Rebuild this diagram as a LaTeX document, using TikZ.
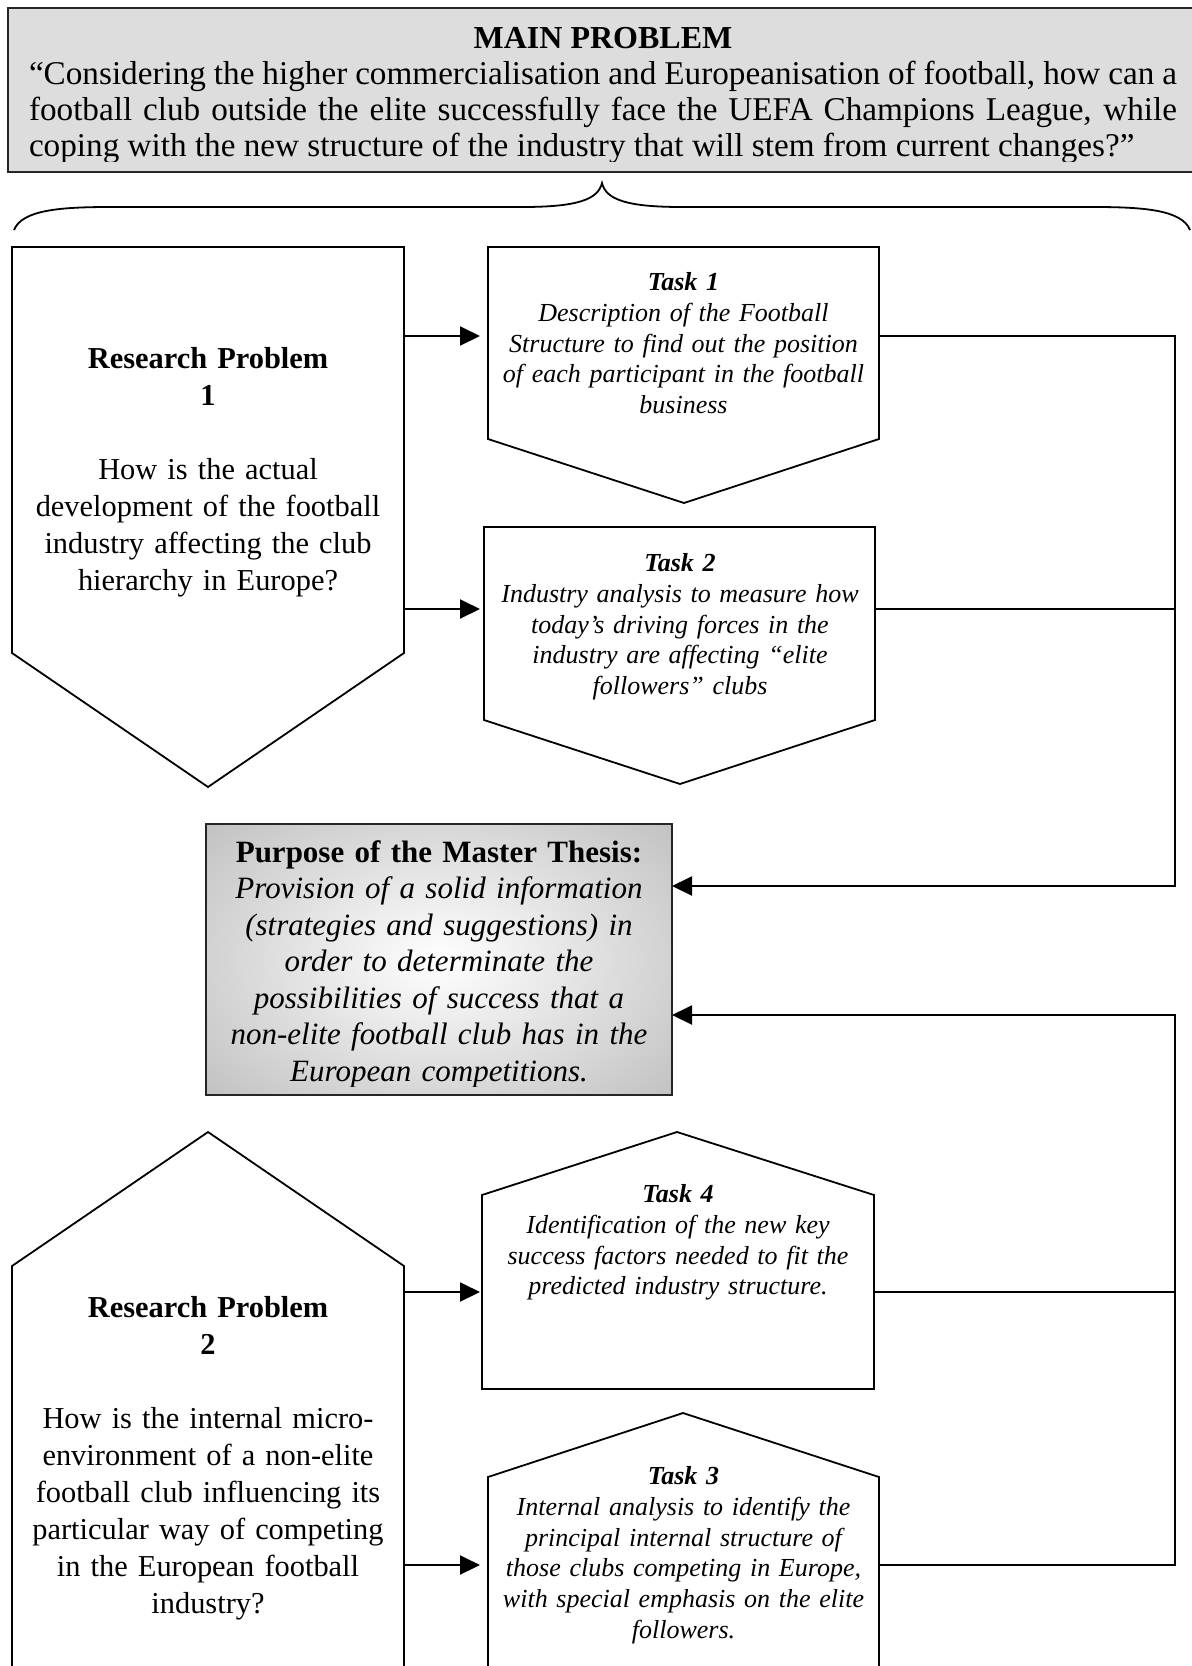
\documentclass[tikz,border=0pt]{standalone}
\usepackage{fontspec}
\setmainfont{Liberation Serif}
\usetikzlibrary{arrows.meta,fit}

\definecolor{mainfill}{RGB}{221,221,221}
\definecolor{edgegray}{RGB}{155,155,155}

\begin{document}
\begin{tikzpicture}[x=0.5pt,y=-0.5pt,
  body/.style={inner sep=0pt,outer sep=0pt},
  outline/.style={draw=black,line width=0.9pt,line join=miter},
  link/.style={draw=black,line width=1pt},
  arr/.style={link,-{Triangle[length=10pt,width=9.5pt]}},
  bigtext/.style={inner sep=0pt,anchor=north,align=center,text width=205pt,
    font=\fontsize{15.2}{18.5}\selectfont},
  tasktext/.style={inner sep=0pt,anchor=north,align=center,text width=190pt,
    font=\fontsize{13}{15.4}\selectfont\itshape},
]
\useasboundingbox (0,0) rectangle (1192,1666);
\clip (0,0) rectangle (1192,1666);

% y-levels of the connectors and x of the collecting line
\coordinate (lv1) at (0,336);
\coordinate (lv2) at (0,609);
\coordinate (lv3) at (0,1292);
\coordinate (lv4) at (0,1565);
\coordinate (lvA) at (0,886);
\coordinate (lvB) at (0,1015);
\coordinate (vx)  at (1175,0);

% ---- main problem box ----
\node[body,fit={(8,8)(1210,172)}] (main) {};
\fill[mainfill] (main.north west) rectangle (main.south east);
\begin{scope}
  \clip (main.north west) rectangle (1210,161);
  \node[inner sep=0pt,anchor=north,text width=574pt,align=justify,
        font=\fontsize{16.6}{18}\selectfont] (maintxt) at (603,27)
  {{\centering\fontsize{16}{18}\selectfont\textbf{MAIN PROBLEM}\par}
   “Considering the higher commercialisation and Europeanisation of football, how can a\linebreak
   football club outside the elite successfully face the UEFA Champions League, while\linebreak
   coping with the new structure of the industry that will stem from current changes?”};
\end{scope}
\draw[line width=1pt,draw=black!85] (main.north west) rectangle (main.south east);

% ---- curly brace ----
\draw[line width=0.9pt] (14,230) .. controls (22,210) and (60,207) .. (110,207)
  -- (522,207) .. controls (576,207) and (598,200) .. (602,183)
  .. controls (606,200) and (628,207) .. (682,207)
  -- (1094,207) .. controls (1144,207) and (1182,210) .. (1190,230);

% ---- research problem 1 ----
\node[body,fit={(12,247)(404,653)}] (rp1) {};
\coordinate (rp1tip) at (208,787);
\draw[outline] (rp1.south west) -- (rp1.north west) -- (rp1.north east)
  -- (rp1.south east) -- (rp1tip) -- cycle;
\node[bigtext] (rp1txt) at (208,347)
  {\textbf{Research Problem}\\\textbf{1}\\[18.5pt]
   How is the actual\\development of the football\\industry affecting the club\\hierarchy in Europe?};

% ---- task 1 ----
\node[body,fit={(488,247)(879,439)}] (t1) {};
\coordinate (t1tip) at (684,503);
\draw[outline] (t1.north west) -- (t1.north east) -- (t1.south east)
  -- (t1tip) -- (t1.south west) -- cycle;
\node[tasktext] (t1txt) at (683.5,272)
  {\textbf{Task 1}\\Description of the Football\\Structure to find out the position\\of each participant in the football\\business};

% ---- task 2 ----
\node[body,fit={(484,527)(875,720)}] (t2) {};
\coordinate (t2tip) at (680,784);
\draw[outline] (t2.north west) -- (t2.north east) -- (t2.south east)
  -- (t2tip) -- (t2.south west) -- cycle;
\node[tasktext] (t2txt) at (680,553)
  {\textbf{Task 2}\\Industry analysis to measure how\\today’s driving forces in the\\industry are affecting “elite\\followers” clubs};

% ---- purpose of the thesis ----
\node[body,fit={(206,824)(672,1095)}] (pur) {};
\begin{scope}
  \clip (pur.north west) rectangle (pur.south east);
  \shade[inner color=white,outer color=edgegray] (pur.center)
    ellipse[x radius=255pt,y radius=165pt];
\end{scope}
\begin{scope}
  \clip (pur.north west) rectangle (672,1086);
  \node[bigtext,text width=228pt,font=\fontsize{15.5}{18.25}\selectfont] (purtxt) at (439,840)
    {\textbf{Purpose of the Master Thesis:}\\\itshape Provision of a solid information\\(strategies and suggestions) in\\order to determinate the\\possibilities of success that a\\non-elite football club has in the\\European competitions.};
\end{scope}
\draw[line width=1pt,draw=black!85] (pur.north west) rectangle (pur.south east);

% ---- research problem 2 ----
\node[body,fit={(12,1266)(404,1700)}] (rp2) {};
\coordinate (rp2tip) at (208,1132);
\draw[outline] (rp2.south west) -- (rp2.north west) -- (rp2tip)
  -- (rp2.north east) -- (rp2.south east);
\node[bigtext] (rp2txt) at (208,1296)
  {\textbf{Research Problem}\\\textbf{2}\\[18.5pt]
   How is the internal micro-\\environment of a non-elite\\football club influencing its\\particular way of competing\\in the European football\\industry?};

% ---- task 4 ----
\node[body,fit={(482,1195)(874,1389)}] (t4) {};
\coordinate (t4tip) at (677,1132);
\draw[outline] (t4.south west) -- (t4.north west) -- (t4tip)
  -- (t4.north east) -- (t4.south east) -- cycle;
\node[tasktext] (t4txt) at (678,1184)
  {\textbf{Task 4}\\Identification of the new key\\success factors needed to fit the\\predicted industry structure.};

% ---- task 3 ----
\node[body,fit={(488,1477)(879,1700)}] (t3) {};
\coordinate (t3tip) at (683,1413);
\draw[outline] (t3.south west) -- (t3.north west) -- (t3tip)
  -- (t3.north east) -- (t3.south east);
\node[tasktext] (t3txt) at (683.5,1466)
  {\textbf{Task 3}\\Internal analysis to identify the\\principal internal structure of\\those clubs competing in Europe,\\with special emphasis on the elite\\followers.};

% ---- connectors ----
\draw[arr,shorten >=4pt] (rp1.east |- lv1) -- (t1.west |- lv1);
\draw[arr,shorten >=2pt] (rp1.east |- lv2) -- (t2.west |- lv2);
\draw[arr,shorten >=1pt] (rp2.east |- lv3) -- (t4.west |- lv3);
\draw[arr,shorten >=4pt] (rp2.east |- lv4) -- (t3.west |- lv4);

\draw[arr] (t1.east |- lv1) -| (vx |- lvA) -- (pur.east |- lvA);
\draw[link] (t2.east |- lv2) -- (vx |- lv2);
\draw[arr] (t3.east |- lv4) -| (vx |- lvB) -- (pur.east |- lvB);
\draw[link] (t4.east |- lv3) -- (vx |- lv3);
\end{tikzpicture}
\end{document}
